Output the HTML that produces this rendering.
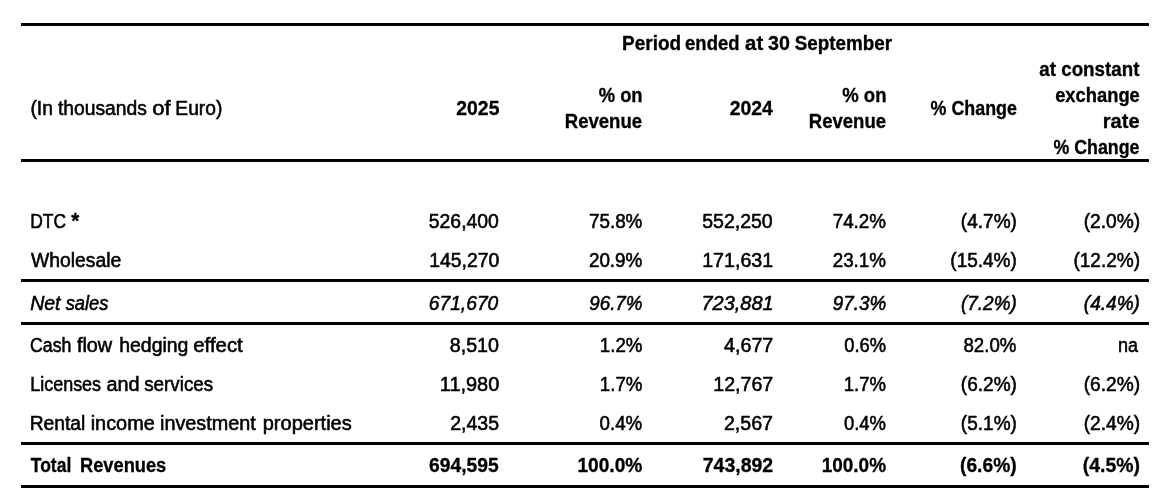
<!DOCTYPE html>
<html lang="en"><head><meta charset="utf-8"><title>Revenues</title>
<style>
html,body{margin:0;padding:0;background:#fff;}
body{width:1170px;height:504px;overflow:hidden;position:relative;font-family:"Liberation Sans",sans-serif;font-size:20.0px;line-height:26px;color:#000;}
table{position:absolute;left:21px;top:23px;width:1128px;border-collapse:separate;border-spacing:0;table-layout:fixed;font-size:20.0px;line-height:26px;}
th,td{padding:0 5px 0 0;margin:0;text-align:right;vertical-align:middle;font-weight:400;white-space:nowrap;box-sizing:border-box;overflow:visible;}
th:first-child,td:first-child{text-align:left;padding:0 0 0 10px;}
th:last-child,td:last-child{padding-right:10px;}
.t{display:inline-block;white-space:nowrap;-webkit-text-stroke:0.55px #000;}
thead th .t,tr.tot .t,b .t{-webkit-text-stroke-width:0.32px;}
thead th:first-child .t{-webkit-text-stroke-width:0.55px;}
thead th{font-weight:700;}
thead th:first-child{font-weight:400;}
tr.period th{height:32px;border-top:3px solid #000;text-align:center;}
tr.head th{height:107px;border-bottom:3px solid #000;}
tr.spacer td{height:39px;}
tbody td{height:39px;}
tr.ul td{height:42px;border-bottom:3px solid #000;}
tr.net td{height:43px;border-bottom:3px solid #000;font-style:italic;}
tr.tot td{height:43px;border-bottom:3px solid #000;font-weight:700;}
b{font-weight:700;}
</style></head><body>
<table>
<colgroup><col style="width:359px"><col style="width:124px"><col style="width:143px"><col style="width:131px"><col style="width:113px"><col style="width:130px"><col style="width:128px"></colgroup>
<thead>
<tr class="period"><th></th><th colspan="6"><span class="t" id="h_period_w0" style="font-size:19.5px;transform-origin:0 50%;transform:translate(3.06px,2.30px) scaleX(0.9725)">Period</span> <span class="t" id="h_period_w1" style="font-size:19.5px;transform-origin:0 50%;transform:translate(0.11px,2.30px) scaleX(0.9460)">ended</span> <span class="t" id="h_period_w2" style="font-size:19.5px;transform-origin:0 50%;transform:translate(-2.93px,2.30px) scaleX(1.0434)">at</span> <span class="t" id="h_period_w3" style="transform-origin:0 50%;transform:translate(-2.95px,2.30px) scaleX(0.9836)">30</span> <span class="t" id="h_period_w4" style="font-size:19.5px;transform-origin:0 50%;transform:translate(-4.31px,2.30px) scaleX(0.9668)">September</span></th></tr>
<tr class="head"><th><span class="t" id="h_label_w0" style="font-size:19.5px;transform-origin:0 50%;transform:translate(-0.60px,0.50px) scaleX(0.9897)">(In</span> <span class="t" id="h_label_w1" style="font-size:19.5px;transform-origin:0 50%;transform:translate(-1.06px,0.50px) scaleX(0.9884)">thousands</span> <span class="t" id="h_label_w2" style="font-size:19.5px;transform-origin:0 50%;transform:translate(-2.64px,0.50px) scaleX(1.1283)">of</span> <span class="t" id="h_label_w3" style="font-size:19.5px;transform-origin:0 50%;transform:translate(-1.66px,0.50px) scaleX(0.9853)">Euro)</span></th><th><span class="t" id="h_2025" style="transform-origin:100% 50%;transform:translate(-0.09px,0.50px) scaleX(0.9681)">2025</span></th><th><span class="t" id="h_pon1a" style="font-size:19.5px;transform-origin:100% 50%;transform:translate(1.00px,0.50px) scaleX(0.9422)">% on</span><br><span class="t" id="h_pon1b" style="font-size:19.5px;transform-origin:100% 50%;transform:translate(-0.23px,0.50px) scaleX(0.9508)">Revenue</span></th><th><span class="t" id="h_2024" style="transform-origin:100% 50%;transform:translate(-0.68px,0.50px) scaleX(0.9695)">2024</span></th><th><span class="t" id="h_pon2a" style="font-size:19.5px;transform-origin:100% 50%;transform:translate(0.91px,0.50px) scaleX(0.9510)">% on</span><br><span class="t" id="h_pon2b" style="font-size:19.5px;transform-origin:100% 50%;transform:translate(-0.23px,0.50px) scaleX(0.9508)">Revenue</span></th><th><span class="t" id="h_chg" style="font-size:19.5px;transform-origin:100% 50%;transform:translate(0.67px,0.50px) scaleX(0.9160)">% Change</span></th><th><span class="t" id="h_c1" style="font-size:19.5px;transform-origin:100% 50%;transform:translate(0.37px,0.50px) scaleX(0.9619)">at constant</span><br><span class="t" id="h_c2" style="font-size:19.5px;transform-origin:100% 50%;transform:translate(0.82px,0.50px) scaleX(0.9405)">exchange</span><br><span class="t" id="h_c3" style="font-size:19.5px;transform-origin:100% 50%;transform:translate(0.74px,0.50px) scaleX(1.0268)">rate</span><br><span class="t" id="h_c4" style="font-size:19.5px;transform-origin:100% 50%;transform:translate(0.17px,0.50px) scaleX(0.9118)">% Change</span></th></tr>
</thead>
<tbody>
<tr class="spacer"><td></td><td></td><td></td><td></td><td></td><td></td><td></td></tr>
<tr><td><span class="t" id="dtc_0" style="transform-origin:0 50%;transform:translate(-0.85px,0.20px) scaleX(0.8715)">DTC</span> <b><span class="t" id="dtc_star" style="font-size:21.5px;transform-origin:0 50%;transform:translate(-6.73px,0.20px) scaleX(0.9574)">*</span></b></td><td><span class="t" id="dtc_1" style="transform-origin:100% 50%;transform:translate(-0.44px,0.20px) scaleX(0.9688)">526,400</span></td><td><span class="t" id="dtc_2" style="transform-origin:100% 50%;transform:translate(0.68px,0.20px) scaleX(0.9431)">75.8%</span></td><td><span class="t" id="dtc_3" style="transform-origin:100% 50%;transform:translate(-0.57px,0.20px) scaleX(0.9760)">552,250</span></td><td><span class="t" id="dtc_4" style="transform-origin:100% 50%;transform:translate(0.15px,0.20px) scaleX(0.9374)">74.2%</span></td><td><span class="t" id="dtc_5" style="transform-origin:100% 50%;transform:translate(0.96px,0.20px) scaleX(0.9507)">(4.7%)</span></td><td><span class="t" id="dtc_6" style="transform-origin:100% 50%;transform:translate(1.12px,0.20px) scaleX(0.9567)">(2.0%)</span></td></tr>
<tr class="ul"><td><span class="t" id="who_0" style="font-size:19.5px;transform-origin:0 50%;transform:translate(-0.12px,0.20px) scaleX(0.9931)">Wholesale</span></td><td><span class="t" id="who_1" style="transform-origin:100% 50%;transform:translate(-0.06px,0.20px) scaleX(0.9695)">145,270</span></td><td><span class="t" id="who_2" style="transform-origin:100% 50%;transform:translate(0.64px,0.20px) scaleX(0.9425)">20.9%</span></td><td><span class="t" id="who_3" style="transform-origin:100% 50%;transform:translate(-0.10px,0.20px) scaleX(0.9824)">171,631</span></td><td><span class="t" id="who_4" style="transform-origin:100% 50%;transform:translate(0.26px,0.20px) scaleX(0.9398)">23.1%</span></td><td><span class="t" id="who_5" style="transform-origin:100% 50%;transform:translate(0.79px,0.20px) scaleX(0.9490)">(15.4%)</span></td><td><span class="t" id="who_6" style="transform-origin:100% 50%;transform:translate(1.07px,0.20px) scaleX(0.9523)">(12.2%)</span></td></tr>
<tr class="net"><td><span class="t" id="net_0_w0" style="font-size:19.5px;transform-origin:0 50%;transform:translate(-0.83px,0.60px) scaleX(1.0003)">Net</span> <span class="t" id="net_0_w1" style="font-size:19.5px;transform-origin:0 50%;transform:translate(-1.29px,0.60px) scaleX(0.9390)">sales</span></td><td><span class="t" id="net_1" style="transform-origin:100% 50%;transform:translate(-0.99px,0.60px) scaleX(0.9624)">671,670</span></td><td><span class="t" id="net_2" style="transform-origin:100% 50%;transform:translate(0.75px,0.60px) scaleX(0.9381)">96.7%</span></td><td><span class="t" id="net_3" style="transform-origin:100% 50%;transform:translate(0.26px,0.60px) scaleX(0.9961)">723,881</span></td><td><span class="t" id="net_4" style="transform-origin:100% 50%;transform:translate(0.44px,0.60px) scaleX(0.9417)">97.3%</span></td><td><span class="t" id="net_5" style="transform-origin:100% 50%;transform:translate(0.91px,0.60px) scaleX(0.9486)">(7.2%)</span></td><td><span class="t" id="net_6" style="transform-origin:100% 50%;transform:translate(1.05px,0.60px) scaleX(0.9527)">(4.4%)</span></td></tr>
<tr><td><span class="t" id="cash_0_w0" style="font-size:19.5px;transform-origin:0 50%;transform:translate(-0.92px,0.30px) scaleX(0.9062)">Cash</span> <span class="t" id="cash_0_w1" style="font-size:19.5px;transform-origin:0 50%;transform:translate(-5.10px,0.30px) scaleX(1.0175)">flow</span> <span class="t" id="cash_0_w2" style="font-size:19.5px;transform-origin:0 50%;transform:translate(-2.73px,0.30px) scaleX(0.9957)">hedging</span> <span class="t" id="cash_0_w3" style="font-size:19.5px;transform-origin:0 50%;transform:translate(-3.75px,0.30px) scaleX(1.0453)">effect</span></td><td><span class="t" id="cash_1" style="transform-origin:100% 50%;transform:translate(-0.07px,0.30px) scaleX(0.9843)">8,510</span></td><td><span class="t" id="cash_2" style="transform-origin:100% 50%;transform:translate(0.75px,0.30px) scaleX(0.9325)">1.2%</span></td><td><span class="t" id="cash_3" style="transform-origin:100% 50%;transform:translate(0.28px,0.30px) scaleX(0.9867)">4,677</span></td><td><span class="t" id="cash_4" style="transform-origin:100% 50%;transform:translate(0.43px,0.30px) scaleX(0.9154)">0.6%</span></td><td><span class="t" id="cash_5" style="transform-origin:100% 50%;transform:translate(0.59px,0.30px) scaleX(0.9309)">82.0%</span></td><td><span class="t" id="cash_6" style="font-size:19.5px;transform-origin:100% 50%;transform:translate(-0.69px,0.30px) scaleX(0.9245)">na</span></td></tr>
<tr><td><span class="t" id="lic_0_w0" style="font-size:19.5px;transform-origin:0 50%;transform:translate(-0.79px,0.30px) scaleX(0.9209)">Licenses</span> <span class="t" id="lic_0_w1" style="font-size:19.5px;transform-origin:0 50%;transform:translate(-7.55px,0.30px) scaleX(1.0170)">and</span> <span class="t" id="lic_0_w2" style="font-size:19.5px;transform-origin:0 50%;transform:translate(-7.79px,0.30px) scaleX(0.9642)">services</span></td><td><span class="t" id="lic_1" style="transform-origin:100% 50%;transform:translate(0.57px,0.30px) scaleX(0.9961)">11,980</span></td><td><span class="t" id="lic_2" style="transform-origin:100% 50%;transform:translate(0.75px,0.30px) scaleX(0.9325)">1.7%</span></td><td><span class="t" id="lic_3" style="transform-origin:100% 50%;transform:translate(0.05px,0.30px) scaleX(0.9805)">12,767</span></td><td><span class="t" id="lic_4" style="transform-origin:100% 50%;transform:translate(0.34px,0.30px) scaleX(0.9240)">1.7%</span></td><td><span class="t" id="lic_5" style="transform-origin:100% 50%;transform:translate(0.96px,0.30px) scaleX(0.9507)">(6.2%)</span></td><td><span class="t" id="lic_6" style="transform-origin:100% 50%;transform:translate(1.12px,0.30px) scaleX(0.9567)">(6.2%)</span></td></tr>
<tr class="ul"><td><span class="t" id="ren_0_w0" style="font-size:19.5px;transform-origin:0 50%;transform:translate(-1.35px,0.30px) scaleX(0.9883)">Rental</span> <span class="t" id="ren_0_w1" style="font-size:19.5px;transform-origin:0 50%;transform:translate(-2.35px,0.30px) scaleX(1.0200)">income</span> <span class="t" id="ren_0_w2" style="font-size:19.5px;transform-origin:0 50%;transform:translate(-1.02px,0.30px) scaleX(1.0162)">investment</span> <span class="t" id="ren_0_w3" style="font-size:19.5px;transform-origin:0 50%;transform:translate(1.71px,0.30px) scaleX(1.0264)">properties</span></td><td><span class="t" id="ren_1" style="transform-origin:100% 50%;transform:translate(-0.05px,0.30px) scaleX(0.9751)">2,435</span></td><td><span class="t" id="ren_2" style="transform-origin:100% 50%;transform:translate(0.67px,0.30px) scaleX(0.9354)">0.4%</span></td><td><span class="t" id="ren_3" style="transform-origin:100% 50%;transform:translate(-0.05px,0.30px) scaleX(0.9805)">2,567</span></td><td><span class="t" id="ren_4" style="transform-origin:100% 50%;transform:translate(0.39px,0.30px) scaleX(0.9223)">0.4%</span></td><td><span class="t" id="ren_5" style="transform-origin:100% 50%;transform:translate(0.96px,0.30px) scaleX(0.9507)">(5.1%)</span></td><td><span class="t" id="ren_6" style="transform-origin:100% 50%;transform:translate(1.12px,0.30px) scaleX(0.9567)">(2.4%)</span></td></tr>
<tr class="tot"><td><span class="t" id="tot_0_w0" style="font-size:19.5px;transform-origin:0 50%;transform:translate(-0.23px,0.20px) scaleX(0.8977)">Total</span> <span class="t" id="tot_0_w1" style="font-size:19.5px;transform-origin:0 50%;transform:translate(-1.99px,0.20px) scaleX(0.9362)">Revenues</span></td><td><span class="t" id="tot_1" style="transform-origin:100% 50%;transform:translate(-0.57px,0.20px) scaleX(0.9643)">694,595</span></td><td><span class="t" id="tot_2" style="transform-origin:100% 50%;transform:translate(0.48px,0.20px) scaleX(0.9568)">100.0%</span></td><td><span class="t" id="tot_3" style="transform-origin:100% 50%;transform:translate(-0.08px,0.20px) scaleX(0.9752)">743,892</span></td><td><span class="t" id="tot_4" style="transform-origin:100% 50%;transform:translate(0.17px,0.20px) scaleX(0.9488)">100.0%</span></td><td><span class="t" id="tot_5" style="transform-origin:100% 50%;transform:translate(0.74px,0.20px) scaleX(0.9611)">(6.6%)</span></td><td><span class="t" id="tot_6" style="transform-origin:100% 50%;transform:translate(1.02px,0.20px) scaleX(0.9703)">(4.5%)</span></td></tr>
</tbody>
</table>
</body></html>
